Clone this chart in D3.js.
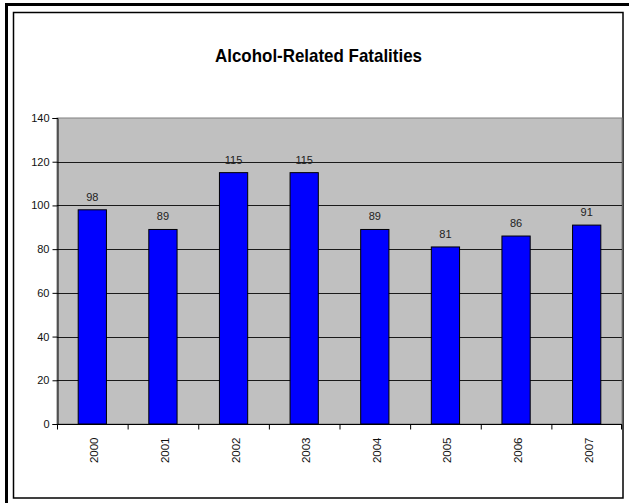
<!DOCTYPE html>
<html>
<head>
<meta charset="utf-8">
<script src="https://cdn.jsdelivr.net/npm/d3@7"></script>
<style>
  body { margin: 0; background: #fff; }
  svg { display: block; }
</style>
</head>
<body>
<script>
// Chart data.
const years = ["2000", "2001", "2002", "2003", "2004", "2005", "2006", "2007"];
const fatalities = [98, 89, 115, 115, 89, 81, 86, 91];
const yTicks = [0, 20, 40, 60, 80, 100, 120, 140];
const chartTitle = "Alcohol-Related Fatalities";

const W = 629, H = 503;
const plot = { left: 57, right: 622, top: 118, bottom: 424 };

const svg = d3.select("body").append("svg")
  .attr("width", W)
  .attr("height", H);

// Outer frame (top and left thick edge) and the inner chart border.
svg.append("path")
  .attr("d", `M6.5,${H} V4.5 H${W}`)
  .attr("fill", "none")
  .attr("stroke", "#000")
  .attr("stroke-width", 3);

svg.append("rect")
  .attr("x", 13.5).attr("y", 12.5)
  .attr("width", 623 - 13.5).attr("height", 498 - 12.5)
  .attr("fill", "#fff")
  .attr("stroke", "#000")
  .attr("stroke-width", 1.5);

// Title (narrow bold face squeezed to the reference width).
svg.append("text")
  .attr("x", 215)
  .attr("y", 62)
  .attr("font-family", "'Liberation Sans Narrow', 'Arial Narrow', 'Liberation Sans', Arial, sans-serif")
  .attr("font-weight", "bold")
  .attr("font-size", "19px")
  .attr("textLength", 207)
  .attr("lengthAdjust", "spacingAndGlyphs")
  .attr("fill", "#000")
  .text(chartTitle);

// Scales.
const x = d3.scaleBand()
  .domain(years)
  .range([plot.left, plot.right])
  .paddingInner(0.6)
  .paddingOuter(0.3);

const xEdge = d3.scaleBand()
  .domain(years)
  .range([plot.left, plot.right]);

const y = d3.scaleLinear()
  .domain([0, 140])
  .range([plot.bottom, plot.top]);

// Plot area background.
svg.append("rect")
  .attr("x", plot.left)
  .attr("y", plot.top)
  .attr("width", plot.right - plot.left)
  .attr("height", plot.bottom - plot.top)
  .attr("fill", "#c0c0c0")
  .attr("stroke", "#808080")
  .attr("stroke-width", 1);

// Gridlines.
svg.append("g")
  .selectAll("line")
  .data(yTicks.filter(d => d > 0 && d < 140))
  .join("line")
  .attr("x1", plot.left)
  .attr("x2", plot.right)
  .attr("y1", d => Math.round(y(d)) + 0.5)
  .attr("y2", d => Math.round(y(d)) + 0.5)
  .attr("stroke", "#1a1a1a")
  .attr("stroke-width", 1);

// Bars.
svg.append("g")
  .selectAll("rect")
  .data(fatalities)
  .join("rect")
  .attr("x", (d, i) => x(years[i]))
  .attr("y", d => y(d))
  .attr("width", x.bandwidth())
  .attr("height", d => y(0) - y(d))
  .attr("fill", "#0000ff")
  .attr("stroke", "#000")
  .attr("stroke-width", 1);

// Value labels.
svg.append("g")
  .selectAll("text")
  .data(fatalities)
  .join("text")
  .attr("x", (d, i) => x(years[i]) + x.bandwidth() / 2)
  .attr("y", d => y(d) - 9)
  .attr("text-anchor", "middle")
  .attr("font-family", "'Liberation Sans', Arial, sans-serif")
  .attr("font-size", "11px")
  .attr("fill", "#222")
  .text(d => d);

// Y axis.
const yAxis = svg.append("g")
  .attr("transform", `translate(${plot.left + 0.5},0)`)
  .call(d3.axisLeft(y).tickValues(yTicks).tickSize(5).tickPadding(3));
yAxis.select(".domain").attr("stroke", "#000");
yAxis.selectAll("text")
  .attr("font-family", "'Liberation Sans', Arial, sans-serif")
  .attr("font-size", "11px")
  .attr("fill", "#111");

// X axis: ticks at category boundaries, labels rotated.
const xAxisG = svg.append("g")
  .attr("transform", `translate(0,${plot.bottom + 0.5})`);
xAxisG.append("line")
  .attr("x1", plot.left).attr("x2", plot.right)
  .attr("stroke", "#000");
xAxisG.selectAll(".tick")
  .data(years.concat(["end"]))
  .join("line")
  .attr("class", "tick")
  .attr("x1", (d, i) => i < years.length ? xEdge(d) + 0.5 : plot.right - 0.5)
  .attr("x2", (d, i) => i < years.length ? xEdge(d) + 0.5 : plot.right - 0.5)
  .attr("y1", 0)
  .attr("y2", 5)
  .attr("stroke", "#000");
xAxisG.selectAll("text")
  .data(years)
  .join("text")
  .attr("transform", d => `translate(${xEdge(d) + xEdge.bandwidth() / 2 + 6},13) rotate(-90)`)
  .attr("text-anchor", "end")
  .attr("font-family", "'Liberation Sans', Arial, sans-serif")
  .attr("font-size", "11.5px")
  .attr("fill", "#111")
  .text(d => d);
</script>
</body>
</html>
